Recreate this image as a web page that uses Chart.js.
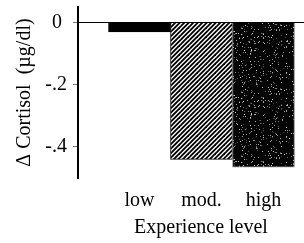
<!DOCTYPE html>
<html>
<head>
<meta charset="utf-8">
<script src="https://cdn.jsdelivr.net/npm/chart.js@4"></script>
<style>
  body { margin: 0; background: #fff; }
  canvas { display: block; }
</style>
</head>
<body>
<canvas id="cortisolChart" width="304" height="243"></canvas>
<script>
const categories = ['low', 'mod.', 'high'];
const cortisolChange = [-0.03, -0.44, -0.465];
const yTickValues = [0, -0.2, -0.4];
const yTickLabels = ['0 ', '-.2', '-.4'];

// diagonal hatch for "mod."
function hatchPattern() {
    const c = document.createElement('canvas');
    c.width = 9; c.height = 9;
    const g = c.getContext('2d');
    g.fillStyle = '#fff';
    g.fillRect(0, 0, 9, 9);
    g.strokeStyle = '#000';
    g.lineWidth = 1.9;
    for (let k = -9; k <= 18; k += 4.5) {
        g.beginPath();
        g.moveTo(k - 2, 9 + 2);
        g.lineTo(k + 11, -2);
        g.stroke();
    }
    return g.createPattern(c, 'repeat');
}

// dark stipple for "high" (deterministic speckle)
function stipplePattern() {
    const c = document.createElement('canvas');
    c.width = 64; c.height = 64;
    const g = c.getContext('2d');
    g.fillStyle = '#050505';
    g.fillRect(0, 0, 64, 64);
    let s = 12345;
    const next = () => { s = (s * 1103515245 + 12345) % 2147483648; return s / 2147483648; };
    for (let i = 0; i < 340; i++) {
        const x = Math.floor(next() * 64), y = Math.floor(next() * 64);
        const v = 60 + Math.floor(next() * 150);
        g.fillStyle = `rgb(${v},${v},${v})`;
        g.fillRect(x, y, 1, 1);
    }
    return g.createPattern(c, 'repeat');
}

const serif = "'Liberation Serif', 'Times New Roman', serif";

const ctx = document.getElementById('cortisolChart').getContext('2d');
const chart = new Chart(ctx, {
    type: 'bar',
    data: {
        datasets: [{
            data: categories.map((c, i) => ({ x: i, y: cortisolChange[i] })),
            backgroundColor: ['#000', hatchPattern(), stipplePattern()],
            borderColor: ['#000', '#000', '#888'],
            borderWidth: 1,
            barPercentage: 1,
            categoryPercentage: 1
        }]
    },
    options: {
        responsive: false,
        animation: false,
        layout: { padding: { left: 13, top: 7, right: 0, bottom: 0 } },
        plugins: { legend: { display: false }, tooltip: { enabled: false } },
        scales: {
            x: {
                type: 'linear',
                offset: false,
                min: -0.992,
                max: 2.653,
                grid: { display: false },
                border: { display: false },
                afterBuildTicks: s => { s.ticks = categories.map((c, i) => ({ value: i })); },
                afterFit: s => { s.height = 65; s.paddingLeft = 0; s.paddingRight = 0; },
                ticks: {
                    color: '#000',
                    padding: 3,
                    maxRotation: 0,
                    font: { family: serif, size: 20 },
                    callback: v => categories[v]
                },
                title: {
                    display: true,
                    // leading spaces nudge the centred title under the bars
                    text: '    Experience level',
                    color: '#000',
                    font: { family: serif, size: 20 },
                    padding: { top: 0, bottom: 3 }
                }
            },
            y: {
                min: -0.5,
                max: 0.05,
                border: { display: true, color: '#000', width: 2 },
                grid: {
                    color: c => (c.tick && c.tick.value === 0 ? '#000' : 'rgba(0,0,0,0)'),
                    tickColor: '#777',
                    tickLength: 5,
                    lineWidth: 1
                },
                afterBuildTicks: s => { s.ticks = yTickValues.map(v => ({ value: v })); },
                afterFit: s => { s.width = 65; s.paddingTop = 0; s.paddingBottom = 0; },
                ticks: {
                    color: '#000',
                    padding: 6,
                    font: { family: serif, size: 20 },
                    callback: v => yTickLabels[yTickValues.indexOf(v)]
                },
                title: {
                    display: true,
                    text: '\u0394 Cortisol  (\u00b5g/dl)',
                    color: '#000',
                    font: { family: serif, size: 20 },
                    padding: { top: 0, bottom: 0 }
                }
            }
        }
    }
});
</script>
</body>
</html>
